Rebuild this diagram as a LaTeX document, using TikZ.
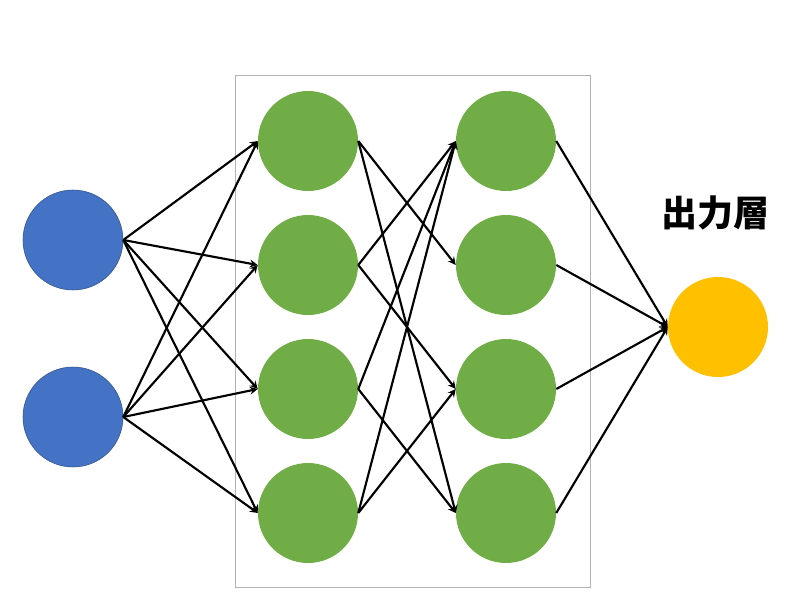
\documentclass[tikz,border=0pt]{standalone}
\usepackage{fontspec}
\newfontfamily\cjk{Noto Sans CJK JP}
\definecolor{inblue}{HTML}{4472C4}
\definecolor{hidgreen}{HTML}{70AD47}
\definecolor{outyellow}{HTML}{FFC000}
\begin{document}
\begin{tikzpicture}[x=0.75pt,y=-0.75pt,>=stealth,
  neuron/.style={circle,minimum size=75pt,inner sep=0pt},
  link/.style={->,line width=1.6pt}]
\useasboundingbox (0,0) rectangle (800,600);

% Box around hidden layers
\draw[gray!60] (235,75) rectangle (590,587);

% Input layer
\node[neuron,fill=inblue,draw=inblue!70!black] (i1) at (73,240) {};
\node[neuron,fill=inblue,draw=inblue!70!black] (i2) at (73,417) {};

% Hidden layers
\foreach \k/\yy in {1/141,2/265,3/389,4/513}{
  \node[neuron,fill=hidgreen] (a\k) at (308,\yy) {};
  \node[neuron,fill=hidgreen] (b\k) at (506,\yy) {};
}

% Output layer
\node[neuron,fill=outyellow] (o) at (718,327) {};
\node[font=\cjk\bfseries\fontsize{27pt}{30pt}\selectfont] (lbl) at (715,213) {出力層};

% Connections
\foreach \i in {1,2}{
  \foreach \k in {1,...,4}{
    \draw[link] (i\i.east) -- (a\k.west);
  }
}
\foreach \s/\t in {1/2,1/4,2/1,2/3,3/1,3/4,4/1,4/3}{
  \draw[link] (a\s.east) -- (b\t.west);
}
\foreach \k in {1,...,4}{
  \draw[link] (b\k.east) -- (o.west);
}
\end{tikzpicture}
\end{document}
